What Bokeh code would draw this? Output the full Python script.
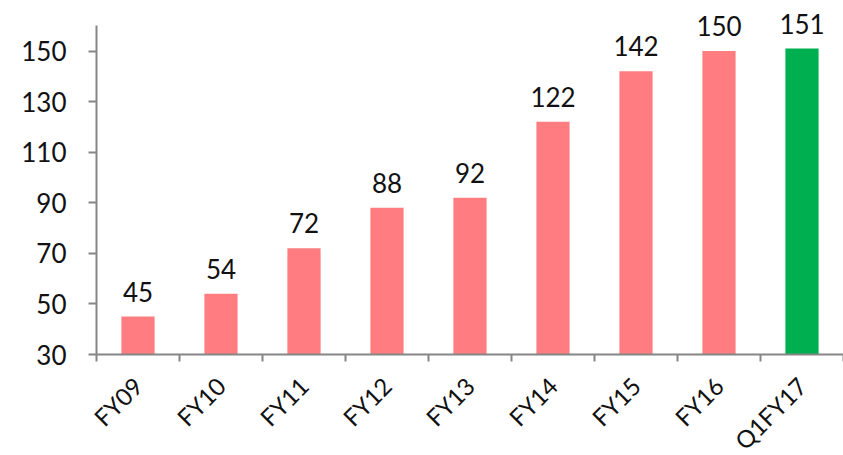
from math import pi
from bokeh.plotting import figure
from bokeh.models import ColumnDataSource, FixedTicker, Range1d
from bokeh.core.properties import value
from bokeh.embed import file_html
from bokeh.resources import INLINE

categories = ["FY09", "FY10", "FY11", "FY12", "FY13", "FY14", "FY15", "FY16", "Q1FY17"]
values = [45, 54, 72, 88, 92, 122, 142, 150, 151]
colors = ["#FF7C80"] * 8 + ["#00B050"]
y_ticks = [30, 50, 70, 90, 110, 130, 150]

xs = [i + 0.5 for i in range(len(categories))]
src = ColumnDataSource(dict(x=xs, top=values, color=colors, label=[str(v) for v in values]))

FONT = "Lato"

p = figure(frame_width=747, frame_height=354, output_backend="svg", toolbar_location=None,
           x_range=Range1d(0, len(categories)), y_range=Range1d(30, 170),
           min_border_left=96, min_border_right=0, min_border_top=0, min_border_bottom=95)
p.outline_line_color = None
p.grid.visible = False

p.vbar(x="x", top="top", bottom=30, width=0.4, color="color", line_color=None, source=src)
p.text(x="x", y="top", text="label", source=src, text_align="center", text_baseline="bottom",
       y_offset=-15, text_font=value(FONT), text_font_size="26px", text_color="#111111")

xa = p.xaxis[0]
xa.ticker = FixedTicker(ticks=xs, minor_ticks=list(range(len(categories) + 1)))
xa.major_label_overrides = {x: c for x, c in zip(xs, categories)}
xa.major_label_orientation = pi / 4
xa.major_tick_line_color = None
xa.minor_tick_out = 7
xa.minor_tick_in = 0
xa.minor_tick_line_color = "#868686"
xa.minor_tick_line_width = 2
xa.axis_line_color = "#868686"
xa.axis_line_width = 2
xa.major_label_text_font = FONT
xa.major_label_text_font_size = "24px"
xa.major_label_text_color = "#111111"
xa.major_label_standoff = 20

ya = p.yaxis[0]
ya.ticker = FixedTicker(ticks=y_ticks, minor_ticks=[])
ya.bounds = (30, 160)
ya.major_tick_out = 8
ya.major_tick_in = 0
ya.major_tick_line_color = "#868686"
ya.major_tick_line_width = 2
ya.axis_line_color = "#868686"
ya.axis_line_width = 2
ya.major_label_text_font = FONT
ya.major_label_text_font_size = "26px"
ya.major_label_text_color = "#111111"
ya.major_label_standoff = 22

open("out.html", "w").write(file_html(p, INLINE))
